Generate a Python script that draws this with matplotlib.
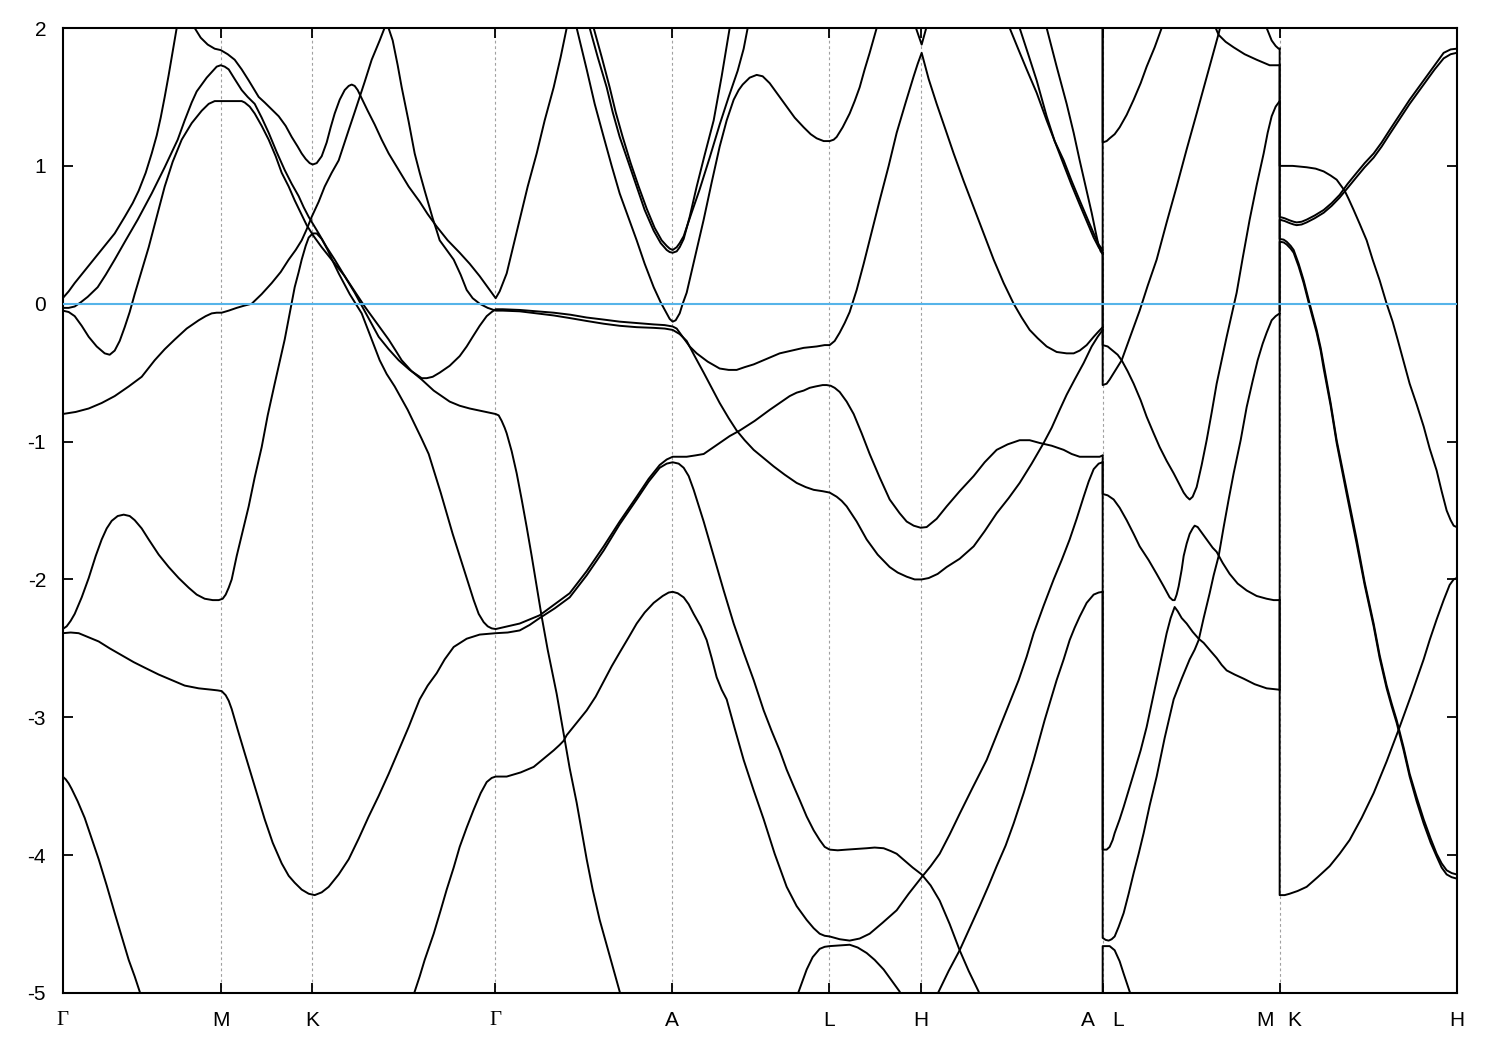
import matplotlib
matplotlib.use("Agg")
import matplotlib.pyplot as plt

plt.rcParams["font.family"] = ["Liberation Sans", "DejaVu Sans"]
plt.rcParams["axes.unicode_minus"] = False

# high-symmetry points along the k-path (path length, arbitrary units)
kpt_pos = [0.00, 1.583, 2.496, 4.326, 6.096, 7.666, 8.586, 10.40, 12.173, 13.94]
kpt_lbl = ["Γ", "M", "K", "Γ", "A", "L", "H", "", "", "H"]
# labels of the two path breaks (A|L and M|K) sit on either side of the tick
split_lbl = [(10.25, "A"), (10.55, "L"), (12.02, "M"), (12.32, "K")]
e_ticks = [-5, -4, -3, -2, -1, 0, 1, 2]

# bands as (k, E-Ef [eV])
band_01 = [(0.00, 0.04), (0.06, 0.09), (0.12, 0.15), (0.22, 0.24), (0.32, 0.33), (0.42, 0.42),
           (0.52, 0.51), (0.62, 0.63), (0.70, 0.73), (0.76, 0.82), (0.83, 0.95), (0.89, 1.09),
           (0.94, 1.22), (0.98, 1.35), (1.02, 1.50), (1.06, 1.66), (1.10, 1.83), (1.14, 2.00),
           (1.18, 2.14), (1.23, 2.20), (1.28, 2.12), (1.32, 2.00), (1.38, 1.93), (1.45, 1.88),
           (1.52, 1.85), (1.58, 1.84), (1.65, 1.81), (1.72, 1.77), (1.79, 1.70), (1.86, 1.62),
           (1.96, 1.50), (2.02, 1.46), (2.09, 1.41), (2.16, 1.36), (2.23, 1.29), (2.29, 1.21),
           (2.35, 1.14), (2.39, 1.09), (2.43, 1.05), (2.47, 1.02), (2.50, 1.01), (2.54, 1.02),
           (2.59, 1.07), (2.64, 1.17), (2.68, 1.28), (2.72, 1.38), (2.77, 1.48), (2.82, 1.55),
           (2.86, 1.58), (2.89, 1.59), (2.92, 1.58), (2.95, 1.55), (2.99, 1.49), (3.05, 1.40),
           (3.12, 1.30), (3.19, 1.19), (3.26, 1.09), (3.36, 0.97), (3.46, 0.85), (3.57, 0.74),
           (3.65, 0.65), (3.74, 0.56), (3.85, 0.46), (3.97, 0.37), (4.07, 0.29), (4.17, 0.20),
           (4.25, 0.12), (4.30, 0.07), (4.33, 0.04), (4.37, 0.09), (4.44, 0.22), (4.50, 0.40),
           (4.57, 0.61), (4.65, 0.85), (4.74, 1.09), (4.82, 1.33), (4.91, 1.57), (4.98, 1.79),
           (5.04, 2.00), (5.09, 2.15), (5.14, 2.00), (5.19, 1.85), (5.24, 1.70), (5.32, 1.45),
           (5.41, 1.21), (5.49, 1.00), (5.57, 0.80), (5.66, 0.62), (5.74, 0.46), (5.82, 0.29),
           (5.91, 0.12), (5.98, 0.01), (6.04, -0.07), (6.07, -0.11), (6.10, -0.13),
           (6.13, -0.12), (6.17, -0.07), (6.20, 0.00), (6.24, 0.08), (6.32, 0.33), (6.41, 0.61),
           (6.49, 0.88), (6.57, 1.14), (6.64, 1.33), (6.71, 1.48), (6.76, 1.55), (6.80, 1.59),
           (6.87, 1.64), (6.94, 1.66), (7.00, 1.65), (7.07, 1.60), (7.15, 1.52), (7.24, 1.43),
           (7.32, 1.35), (7.41, 1.28), (7.48, 1.23), (7.54, 1.20), (7.61, 1.18), (7.67, 1.18),
           (7.71, 1.19), (7.74, 1.21), (7.80, 1.28), (7.87, 1.38), (7.92, 1.47), (7.97, 1.57),
           (8.02, 1.70), (8.07, 1.82), (8.14, 2.00), (8.19, 2.17)]
band_02 = [(0.00, -0.03), (0.06, -0.03), (0.12, -0.02), (0.18, 0.01), (0.25, 0.05),
           (0.35, 0.12), (0.43, 0.21), (0.52, 0.32), (0.63, 0.46), (0.75, 0.61), (0.89, 0.80),
           (1.02, 0.99), (1.15, 1.19), (1.22, 1.33), (1.29, 1.46), (1.34, 1.54), (1.39, 1.59),
           (1.44, 1.64), (1.49, 1.68), (1.54, 1.72), (1.58, 1.73), (1.62, 1.72), (1.66, 1.70),
           (1.72, 1.63), (1.79, 1.55), (1.85, 1.50), (1.92, 1.45), (1.99, 1.35), (2.06, 1.24),
           (2.14, 1.10), (2.22, 0.97), (2.29, 0.87), (2.36, 0.78), (2.41, 0.70), (2.46, 0.63),
           (2.51, 0.57), (2.56, 0.51), (2.64, 0.41), (2.72, 0.32), (2.82, 0.20), (2.92, 0.08),
           (3.04, -0.08), (3.16, -0.24), (3.26, -0.33), (3.36, -0.41), (3.47, -0.48),
           (3.55, -0.52), (3.59, -0.54), (3.64, -0.54), (3.70, -0.53), (3.77, -0.50),
           (3.87, -0.45), (3.97, -0.38), (4.04, -0.31), (4.10, -0.24), (4.17, -0.16),
           (4.24, -0.09), (4.29, -0.06), (4.33, -0.04), (4.40, -0.04), (4.57, -0.045),
           (4.74, -0.055), (4.91, -0.065), (5.08, -0.08), (5.24, -0.10), (5.41, -0.115),
           (5.57, -0.13), (5.74, -0.14), (5.91, -0.15), (6.02, -0.155), (6.10, -0.165),
           (6.14, -0.18), (6.17, -0.21), (6.22, -0.26), (6.27, -0.31), (6.34, -0.36),
           (6.45, -0.42), (6.57, -0.47), (6.66, -0.48), (6.74, -0.48), (6.82, -0.46),
           (6.91, -0.44), (7.04, -0.40), (7.17, -0.36), (7.29, -0.34), (7.41, -0.32),
           (7.54, -0.31), (7.62, -0.30), (7.67, -0.30), (7.72, -0.27), (7.77, -0.21),
           (7.82, -0.14), (7.87, -0.06), (7.94, 0.10), (8.01, 0.29), (8.09, 0.52), (8.17, 0.75),
           (8.26, 1.00), (8.34, 1.24), (8.43, 1.46), (8.51, 1.65), (8.55, 1.74), (8.59, 1.82),
           (8.66, 1.63), (8.74, 1.45), (8.83, 1.26), (8.91, 1.09), (9.01, 0.89), (9.11, 0.70),
           (9.21, 0.51), (9.31, 0.32), (9.41, 0.15), (9.51, 0.00), (9.59, -0.10), (9.67, -0.19),
           (9.75, -0.25), (9.84, -0.31), (9.94, -0.35), (10.04, -0.36), (10.11, -0.36),
           (10.17, -0.34), (10.24, -0.30), (10.31, -0.24), (10.36, -0.20), (10.40, -0.17)]
band_03 = [(0.00, -0.05), (0.06, -0.06), (0.12, -0.09), (0.19, -0.16), (0.26, -0.24),
           (0.34, -0.31), (0.42, -0.36), (0.47, -0.37), (0.52, -0.34), (0.57, -0.27),
           (0.62, -0.17), (0.67, -0.06), (0.72, 0.07), (0.79, 0.24), (0.86, 0.41), (0.94, 0.63),
           (1.02, 0.85), (1.10, 1.03), (1.19, 1.19), (1.29, 1.31), (1.39, 1.40), (1.46, 1.45),
           (1.52, 1.47), (1.58, 1.47), (1.70, 1.47), (1.79, 1.47), (1.82, 1.46), (1.87, 1.43),
           (1.92, 1.38), (1.99, 1.29), (2.06, 1.19), (2.13, 1.07), (2.19, 0.95), (2.26, 0.85),
           (2.32, 0.75), (2.38, 0.66), (2.44, 0.57), (2.51, 0.49), (2.59, 0.41), (2.70, 0.31),
           (2.82, 0.20), (2.92, 0.09), (3.02, -0.02), (3.14, -0.14), (3.26, -0.26),
           (3.33, -0.34), (3.39, -0.41), (3.49, -0.49), (3.59, -0.55), (3.65, -0.59),
           (3.71, -0.63), (3.79, -0.67), (3.87, -0.71), (3.97, -0.74), (4.07, -0.76),
           (4.20, -0.78), (4.33, -0.80), (4.36, -0.81), (4.39, -0.85), (4.42, -0.90),
           (4.44, -0.94), (4.49, -1.07), (4.54, -1.23), (4.59, -1.42), (4.64, -1.62),
           (4.69, -1.83), (4.74, -2.05), (4.79, -2.27), (4.85, -2.51), (4.94, -2.83),
           (5.01, -3.12), (5.07, -3.37), (5.14, -3.62), (5.24, -4.03), (5.30, -4.25),
           (5.37, -4.47), (5.47, -4.73), (5.57, -4.99), (5.62, -5.12)]
band_04 = [(0.00, -0.80), (0.13, -0.785), (0.26, -0.76), (0.39, -0.72), (0.52, -0.67),
           (0.66, -0.60), (0.79, -0.53), (0.92, -0.41), (1.02, -0.33), (1.12, -0.26),
           (1.24, -0.18), (1.36, -0.12), (1.43, -0.09), (1.49, -0.07), (1.54, -0.065),
           (1.59, -0.065), (1.66, -0.05), (1.74, -0.03), (1.81, -0.015), (1.89, 0.00),
           (1.99, 0.07), (2.09, 0.15), (2.18, 0.23), (2.26, 0.32), (2.33, 0.39), (2.39, 0.46),
           (2.44, 0.54), (2.49, 0.63), (2.56, 0.74), (2.62, 0.85), (2.69, 0.95), (2.76, 1.04),
           (2.81, 1.15), (2.86, 1.26), (2.92, 1.39), (2.97, 1.50), (3.02, 1.61), (3.09, 1.77),
           (3.17, 1.91), (3.24, 2.04), (3.30, 1.91), (3.35, 1.73), (3.39, 1.57), (3.46, 1.32),
           (3.52, 1.09), (3.57, 0.95), (3.62, 0.82), (3.66, 0.72), (3.70, 0.62), (3.74, 0.53),
           (3.77, 0.46), (3.84, 0.39), (3.91, 0.32), (3.98, 0.21), (4.04, 0.10), (4.10, 0.04),
           (4.17, 0.00), (4.25, -0.03), (4.33, -0.05), (4.40, -0.05), (4.57, -0.055),
           (4.74, -0.07), (4.91, -0.085), (5.08, -0.105), (5.24, -0.125), (5.41, -0.145),
           (5.57, -0.16), (5.74, -0.17), (5.91, -0.175), (6.02, -0.18), (6.10, -0.19),
           (6.17, -0.22), (6.24, -0.27), (6.32, -0.38), (6.41, -0.50), (6.49, -0.61),
           (6.57, -0.72), (6.66, -0.83), (6.74, -0.92), (6.82, -0.99), (6.91, -1.06),
           (7.01, -1.12), (7.11, -1.18), (7.22, -1.24), (7.34, -1.30), (7.43, -1.33),
           (7.51, -1.35), (7.60, -1.36), (7.67, -1.37), (7.74, -1.40), (7.79, -1.43),
           (7.84, -1.47), (7.94, -1.58), (8.04, -1.71), (8.15, -1.82), (8.27, -1.91),
           (8.35, -1.95), (8.44, -1.98), (8.52, -2.00), (8.59, -2.00), (8.66, -1.99),
           (8.75, -1.96), (8.84, -1.91), (8.97, -1.85), (9.11, -1.76), (9.22, -1.65),
           (9.34, -1.52), (9.46, -1.41), (9.57, -1.30), (9.69, -1.16), (9.81, -1.01),
           (9.89, -0.90), (9.97, -0.77), (10.04, -0.66), (10.12, -0.55), (10.21, -0.43),
           (10.29, -0.31), (10.35, -0.24), (10.40, -0.19)]
band_05 = [(0.00, -2.36), (0.04, -2.34), (0.08, -2.30), (0.12, -2.25), (0.19, -2.13),
           (0.26, -1.99), (0.33, -1.83), (0.39, -1.71), (0.44, -1.63), (0.49, -1.575),
           (0.55, -1.54), (0.61, -1.53), (0.67, -1.54), (0.72, -1.57), (0.79, -1.63),
           (0.86, -1.71), (0.96, -1.82), (1.06, -1.91), (1.16, -1.99), (1.26, -2.06),
           (1.34, -2.11), (1.42, -2.14), (1.50, -2.15), (1.56, -2.15), (1.60, -2.14),
           (1.63, -2.11), (1.66, -2.06), (1.69, -2.00), (1.74, -1.83), (1.80, -1.65),
           (1.86, -1.47), (1.92, -1.26), (1.99, -1.04), (2.05, -0.81), (2.12, -0.58),
           (2.17, -0.42), (2.22, -0.26), (2.27, -0.07), (2.32, 0.12), (2.36, 0.23), (2.39, 0.32),
           (2.43, 0.42), (2.46, 0.48), (2.50, 0.51), (2.54, 0.51), (2.59, 0.47), (2.65, 0.39),
           (2.70, 0.31), (2.76, 0.22), (2.87, 0.07), (2.99, -0.07), (3.08, -0.24), (3.17, -0.41),
           (3.24, -0.51), (3.32, -0.60), (3.45, -0.77), (3.59, -0.98), (3.66, -1.09),
           (3.72, -1.23), (3.78, -1.37), (3.84, -1.52), (3.90, -1.67), (3.97, -1.83),
           (4.04, -1.99), (4.11, -2.15), (4.16, -2.25), (4.21, -2.31), (4.25, -2.34),
           (4.29, -2.355), (4.33, -2.36), (4.45, -2.34), (4.57, -2.32), (4.67, -2.29),
           (4.77, -2.26), (4.92, -2.18), (5.07, -2.10), (5.24, -1.94), (5.41, -1.76),
           (5.57, -1.58), (5.74, -1.40), (5.86, -1.27), (5.97, -1.17), (6.04, -1.13),
           (6.10, -1.11), (6.17, -1.11), (6.24, -1.11), (6.33, -1.10), (6.41, -1.09),
           (6.49, -1.05), (6.57, -1.01), (6.67, -0.96), (6.77, -0.92), (6.92, -0.85),
           (7.07, -0.77), (7.17, -0.72), (7.27, -0.67), (7.34, -0.645), (7.41, -0.63),
           (7.47, -0.61), (7.53, -0.60), (7.60, -0.59), (7.64, -0.59), (7.68, -0.595),
           (7.72, -0.61), (7.77, -0.64), (7.84, -0.71), (7.91, -0.80), (7.99, -0.94),
           (8.07, -1.09), (8.17, -1.26), (8.27, -1.42), (8.37, -1.52), (8.44, -1.58),
           (8.51, -1.61), (8.58, -1.625), (8.64, -1.62), (8.74, -1.56), (8.84, -1.47),
           (8.97, -1.36), (9.11, -1.25), (9.22, -1.15), (9.34, -1.06), (9.45, -1.02),
           (9.57, -0.99), (9.67, -0.99), (9.77, -1.01), (9.89, -1.03), (10.01, -1.06),
           (10.09, -1.09), (10.17, -1.11), (10.27, -1.11), (10.37, -1.11), (10.40, -1.10)]
band_06 = [(0.00, -2.39), (0.08, -2.385), (0.16, -2.39), (0.26, -2.42), (0.36, -2.45),
           (0.47, -2.50), (0.59, -2.55), (0.71, -2.60), (0.82, -2.64), (0.96, -2.69),
           (1.09, -2.73), (1.22, -2.77), (1.36, -2.79), (1.49, -2.80), (1.55, -2.805),
           (1.59, -2.81), (1.63, -2.84), (1.66, -2.88), (1.69, -2.94), (1.75, -3.09),
           (1.82, -3.26), (1.92, -3.50), (2.02, -3.74), (2.10, -3.91), (2.19, -4.06),
           (2.26, -4.15), (2.32, -4.20), (2.39, -4.25), (2.46, -4.28), (2.52, -4.29),
           (2.59, -4.27), (2.66, -4.23), (2.76, -4.14), (2.86, -4.03), (2.96, -3.88),
           (3.06, -3.72), (3.16, -3.57), (3.26, -3.41), (3.36, -3.24), (3.46, -3.07),
           (3.52, -2.96), (3.57, -2.87), (3.65, -2.77), (3.74, -2.68), (3.82, -2.58),
           (3.91, -2.49), (4.04, -2.43), (4.17, -2.40), (4.33, -2.39), (4.45, -2.385),
           (4.57, -2.37), (4.67, -2.33), (4.77, -2.28), (4.92, -2.21), (5.07, -2.13),
           (5.24, -1.97), (5.41, -1.79), (5.57, -1.60), (5.74, -1.42), (5.86, -1.29),
           (5.97, -1.19), (6.04, -1.16), (6.10, -1.15), (6.16, -1.16), (6.21, -1.19),
           (6.26, -1.25), (6.31, -1.35), (6.41, -1.58), (6.51, -1.83), (6.61, -2.08),
           (6.71, -2.32), (6.81, -2.53), (6.91, -2.73), (7.01, -2.95), (7.09, -3.10),
           (7.17, -3.24), (7.24, -3.38), (7.31, -3.50), (7.37, -3.60), (7.44, -3.72),
           (7.51, -3.82), (7.57, -3.89), (7.62, -3.94), (7.67, -3.96), (7.75, -3.965),
           (7.84, -3.96), (7.94, -3.955), (8.04, -3.95), (8.12, -3.945), (8.21, -3.95),
           (8.28, -3.97), (8.34, -3.99), (8.42, -4.04), (8.50, -4.09), (8.59, -4.14),
           (8.68, -4.22), (8.77, -4.33), (8.87, -4.50), (8.97, -4.69), (9.06, -4.84),
           (9.16, -4.99), (9.20, -5.09)]
band_07 = [(0.00, -3.43), (0.03, -3.45), (0.06, -3.48), (0.09, -3.52), (0.15, -3.61),
           (0.22, -3.73), (0.29, -3.88), (0.36, -4.03), (0.44, -4.22), (0.52, -4.42),
           (0.59, -4.59), (0.66, -4.76), (0.72, -4.88), (0.77, -4.99), (0.80, -5.07)]
band_08 = [(3.49, -5.05), (3.52, -4.99), (3.57, -4.88), (3.62, -4.76), (3.71, -4.57),
           (3.78, -4.40), (3.84, -4.25), (3.91, -4.09), (3.97, -3.94), (4.04, -3.80),
           (4.11, -3.67), (4.18, -3.55), (4.24, -3.47), (4.29, -3.44), (4.33, -3.43),
           (4.44, -3.43), (4.58, -3.40), (4.71, -3.36), (4.81, -3.30), (4.91, -3.24),
           (4.97, -3.20), (5.01, -3.17), (5.04, -3.13), (5.14, -3.04), (5.24, -2.95),
           (5.33, -2.85), (5.41, -2.74), (5.49, -2.63), (5.57, -2.53), (5.66, -2.42),
           (5.74, -2.32), (5.82, -2.24), (5.91, -2.17), (6.00, -2.12), (6.06, -2.095),
           (6.10, -2.09), (6.15, -2.10), (6.21, -2.13), (6.26, -2.18), (6.31, -2.25),
           (6.38, -2.34), (6.44, -2.44), (6.49, -2.57), (6.54, -2.71), (6.59, -2.80),
           (6.64, -2.87), (6.72, -3.08), (6.81, -3.31), (6.91, -3.53), (7.01, -3.74),
           (7.12, -3.99), (7.24, -4.23), (7.34, -4.37), (7.44, -4.47), (7.51, -4.53),
           (7.57, -4.57), (7.62, -4.585), (7.67, -4.59), (7.77, -4.61), (7.87, -4.62),
           (7.97, -4.605), (8.07, -4.57), (8.20, -4.49), (8.34, -4.40), (8.46, -4.28),
           (8.59, -4.16), (8.68, -4.08), (8.77, -3.99), (8.87, -3.85), (8.97, -3.70),
           (9.10, -3.51), (9.24, -3.31), (9.40, -3.02), (9.56, -2.73), (9.64, -2.56),
           (9.71, -2.39), (9.81, -2.19), (9.91, -2.00), (9.99, -1.86), (10.07, -1.71),
           (10.14, -1.56), (10.21, -1.40), (10.26, -1.29), (10.31, -1.20), (10.36, -1.16),
           (10.40, -1.15)]
band_09 = [(8.72, -5.05), (8.76, -4.99), (8.86, -4.84), (8.97, -4.69), (9.07, -4.53),
           (9.17, -4.37), (9.26, -4.22), (9.34, -4.08), (9.43, -3.93), (9.51, -3.77),
           (9.61, -3.55), (9.71, -3.31), (9.82, -3.02), (9.94, -2.73), (10.01, -2.58),
           (10.07, -2.44), (10.12, -2.35), (10.17, -2.27), (10.24, -2.17), (10.31, -2.11),
           (10.36, -2.095), (10.40, -2.09)]
band_10 = [(7.33, -5.05), (7.36, -4.99), (7.40, -4.91), (7.44, -4.83), (7.50, -4.74),
           (7.57, -4.68), (7.62, -4.665), (7.67, -4.66), (7.77, -4.655), (7.87, -4.65),
           (7.95, -4.67), (8.04, -4.71), (8.12, -4.76), (8.21, -4.83), (8.29, -4.91),
           (8.37, -4.99), (8.40, -5.05)]
band_11 = [(5.24, 2.09), (5.27, 2.00), (5.35, 1.79), (5.44, 1.57), (5.50, 1.39), (5.57, 1.21),
           (5.66, 1.02), (5.74, 0.85), (5.82, 0.68), (5.91, 0.53), (5.98, 0.44), (6.04, 0.39),
           (6.07, 0.375), (6.10, 0.37), (6.14, 0.38), (6.17, 0.41), (6.21, 0.47), (6.27, 0.63),
           (6.34, 0.85), (6.42, 1.08), (6.51, 1.33), (6.59, 1.65), (6.67, 2.00), (6.70, 2.09)]
band_12 = [(5.28, 2.09), (5.31, 2.00), (5.39, 1.79), (5.47, 1.57), (5.53, 1.39), (5.60, 1.21),
           (5.68, 1.02), (5.76, 0.85), (5.84, 0.69), (5.92, 0.55), (5.99, 0.46), (6.04, 0.42),
           (6.07, 0.40), (6.10, 0.39), (6.14, 0.41), (6.17, 0.44), (6.21, 0.49), (6.28, 0.64),
           (6.37, 0.83), (6.47, 1.06), (6.57, 1.30), (6.66, 1.50), (6.75, 1.69), (6.81, 1.85),
           (6.85, 2.00), (6.89, 2.09)]
band_13 = [(8.49, 2.09), (8.59, 1.88), (8.67, 2.09)]
band_14 = [(9.44, 2.09), (9.47, 2.00), (9.56, 1.84), (9.64, 1.70), (9.74, 1.53), (9.84, 1.33),
           (9.92, 1.18), (10.01, 1.04), (10.09, 0.89), (10.17, 0.75), (10.24, 0.63),
           (10.31, 0.51), (10.36, 0.43), (10.40, 0.39)]
band_15 = [(9.54, 2.09), (9.57, 2.00), (9.66, 1.80), (9.74, 1.62), (9.84, 1.36), (9.92, 1.18),
           (10.01, 1.01), (10.09, 0.86), (10.17, 0.72), (10.24, 0.60), (10.31, 0.48),
           (10.36, 0.41), (10.40, 0.37)]
band_16 = [(9.81, 2.09), (9.84, 2.00), (9.94, 1.72), (10.04, 1.45), (10.11, 1.24),
           (10.17, 1.04), (10.23, 0.85), (10.29, 0.66), (10.33, 0.52), (10.36, 0.42),
           (10.38, 0.38), (10.40, 0.36)]

# L -> M, first point is the band's energy on the A side of the path break
band_lm1 = [(10.40, 2.30), (10.40, 1.17), (10.44, 1.18), (10.47, 1.20), (10.52, 1.23),
            (10.57, 1.28), (10.64, 1.37), (10.71, 1.48), (10.78, 1.60), (10.84, 1.72),
            (10.92, 1.86), (10.99, 2.00), (11.04, 2.12)]
band_lm2 = [(10.40, 2.20), (10.40, -0.30), (10.45, -0.31), (10.50, -0.34), (10.55, -0.37),
            (10.59, -0.41), (10.65, -0.49), (10.71, -0.58), (10.78, -0.70), (10.84, -0.82),
            (10.91, -0.94), (10.97, -1.04), (11.04, -1.14), (11.11, -1.23), (11.16, -1.30),
            (11.21, -1.37), (11.24, -1.40), (11.27, -1.42), (11.30, -1.40), (11.34, -1.33),
            (11.39, -1.17), (11.44, -0.99), (11.49, -0.79), (11.54, -0.58), (11.59, -0.41),
            (11.64, -0.24), (11.69, -0.08), (11.74, 0.08), (11.80, 0.33), (11.87, 0.61),
            (11.94, 0.86), (12.01, 1.09), (12.05, 1.24), (12.09, 1.36), (12.13, 1.43),
            (12.17, 1.47)]
band_lm3 = [(10.40, 0.37), (10.40, -0.59), (10.44, -0.58), (10.47, -0.55), (10.53, -0.48),
            (10.59, -0.41), (10.68, -0.23), (10.77, -0.05), (10.85, 0.13), (10.94, 0.32),
            (11.04, 0.59), (11.14, 0.85), (11.24, 1.12), (11.34, 1.38), (11.45, 1.67),
            (11.56, 1.96), (11.60, 2.08)]
band_lm4 = [(10.40, -1.11), (10.40, -1.38), (10.45, -1.39), (10.51, -1.42), (10.57, -1.48),
            (10.64, -1.57), (10.71, -1.67), (10.77, -1.76), (10.86, -1.86), (10.94, -1.96),
            (11.01, -2.05), (11.07, -2.13), (11.10, -2.15), (11.12, -2.15), (11.14, -2.11),
            (11.16, -2.05), (11.19, -1.93), (11.21, -1.83), (11.24, -1.74), (11.27, -1.67),
            (11.30, -1.63), (11.32, -1.61), (11.35, -1.62), (11.37, -1.64), (11.42, -1.69),
            (11.46, -1.73), (11.50, -1.77), (11.54, -1.80), (11.60, -1.88), (11.67, -1.96),
            (11.75, -2.03), (11.84, -2.08), (11.94, -2.12), (12.04, -2.14), (12.11, -2.15),
            (12.17, -2.15)]
band_lm5 = [(10.40, -1.15), (10.40, -3.96), (10.44, -3.96), (10.47, -3.94), (10.50, -3.89),
            (10.52, -3.84), (10.57, -3.74), (10.61, -3.65), (10.66, -3.53), (10.71, -3.41),
            (10.78, -3.24), (10.84, -3.07), (10.89, -2.90), (10.94, -2.73), (10.99, -2.56),
            (11.04, -2.39), (11.08, -2.28), (11.12, -2.20), (11.15, -2.23), (11.19, -2.28),
            (11.24, -2.32), (11.30, -2.38), (11.36, -2.43), (11.41, -2.46), (11.48, -2.52),
            (11.54, -2.57), (11.59, -2.62), (11.64, -2.66), (11.72, -2.69), (11.81, -2.72),
            (11.92, -2.76), (12.04, -2.79), (12.17, -2.80)]
band_lm6 = [(10.40, -2.09), (10.40, -4.60), (10.43, -4.615), (10.46, -4.62), (10.49, -4.61),
            (10.52, -4.59), (10.56, -4.52), (10.61, -4.42), (10.66, -4.28), (10.71, -4.13),
            (10.76, -3.99), (10.81, -3.84), (10.87, -3.64), (10.94, -3.43), (11.02, -3.15),
            (11.11, -2.87), (11.19, -2.72), (11.27, -2.58), (11.32, -2.51), (11.36, -2.44),
            (11.41, -2.28), (11.47, -2.10), (11.51, -1.97), (11.56, -1.83), (11.61, -1.62),
            (11.66, -1.42), (11.71, -1.23), (11.78, -0.99), (11.84, -0.75), (11.90, -0.56),
            (11.95, -0.41), (12.00, -0.29), (12.04, -0.21), (12.09, -0.12), (12.13, -0.09),
            (12.17, -0.07)]
band_lm7 = [(10.40, -5.50), (10.40, -4.66), (10.47, -4.66), (10.52, -4.69), (10.57, -4.77),
            (10.61, -4.86), (10.67, -4.99), (10.70, -5.05)]
band_lm8 = [(11.49, 2.09), (11.53, 2.00), (11.56, 1.95), (11.63, 1.90), (11.71, 1.86),
            (11.82, 1.81), (11.94, 1.77), (12.07, 1.73), (12.17, 1.73)]
band_lm9 = [(12.00, 2.09), (12.04, 2.00), (12.09, 1.91), (12.13, 1.87), (12.16, 1.85),
            (12.17, 1.85)]

# K -> H, first point is the band's energy on the M side of the path break
band_kh1 = [(12.17, 1.85), (12.17, 1.00), (12.30, 1.00), (12.44, 0.99), (12.53, 0.98),
            (12.61, 0.96), (12.68, 0.93), (12.74, 0.90), (12.78, 0.86), (12.82, 0.82),
            (12.86, 0.76), (12.91, 0.68), (12.97, 0.58), (13.04, 0.46), (13.10, 0.32),
            (13.17, 0.17), (13.24, 0.00), (13.30, -0.13), (13.35, -0.26), (13.41, -0.42),
            (13.47, -0.58), (13.54, -0.73), (13.61, -0.89), (13.67, -1.05), (13.74, -1.21),
            (13.79, -1.36), (13.84, -1.50), (13.88, -1.57), (13.91, -1.61), (13.94, -1.62)]
band_kh2 = [(12.17, 1.73), (12.17, 0.63), (12.22, 0.62), (12.27, 0.605), (12.31, 0.595),
            (12.34, 0.59), (12.39, 0.595), (12.44, 0.61), (12.52, 0.64), (12.61, 0.68),
            (12.69, 0.73), (12.77, 0.79), (12.85, 0.87), (12.94, 0.95), (13.02, 1.02),
            (13.11, 1.09), (13.19, 1.17), (13.27, 1.26), (13.37, 1.37), (13.47, 1.48),
            (13.55, 1.56), (13.64, 1.65), (13.72, 1.73), (13.81, 1.82), (13.88, 1.845),
            (13.94, 1.85)]
band_kh3 = [(12.17, -0.05), (12.17, 0.61), (12.22, 0.60), (12.27, 0.585), (12.31, 0.575),
            (12.34, 0.57), (12.39, 0.575), (12.44, 0.59), (12.52, 0.62), (12.61, 0.66),
            (12.69, 0.71), (12.77, 0.77), (12.85, 0.84), (12.94, 0.92), (13.02, 0.99),
            (13.11, 1.06), (13.19, 1.14), (13.27, 1.23), (13.37, 1.34), (13.47, 1.45),
            (13.55, 1.53), (13.64, 1.62), (13.72, 1.70), (13.81, 1.78), (13.88, 1.81),
            (13.94, 1.82)]
band_kh4 = [(12.17, 1.46), (12.17, 0.47), (12.21, 0.465), (12.24, 0.45), (12.28, 0.42),
            (12.31, 0.39), (12.36, 0.29), (12.41, 0.17), (12.47, 0.00), (12.54, -0.19),
            (12.58, -0.32), (12.61, -0.44), (12.68, -0.72), (12.74, -0.99), (12.84, -1.35),
            (12.94, -1.71), (13.02, -2.02), (13.11, -2.32), (13.17, -2.55), (13.24, -2.77),
            (13.29, -2.90), (13.34, -3.02), (13.41, -3.22), (13.47, -3.41), (13.54, -3.58),
            (13.61, -3.74), (13.68, -3.88), (13.74, -3.99), (13.79, -4.06), (13.84, -4.11),
            (13.89, -4.13), (13.94, -4.14)]
band_kh5 = [(12.17, -2.80), (12.17, 0.45), (12.21, 0.445), (12.24, 0.43), (12.28, 0.40),
            (12.31, 0.37), (12.36, 0.27), (12.41, 0.15), (12.47, -0.02), (12.54, -0.21),
            (12.58, -0.34), (12.61, -0.47), (12.68, -0.74), (12.74, -1.01), (12.84, -1.38),
            (12.94, -1.74), (13.02, -2.04), (13.11, -2.34), (13.17, -2.57), (13.24, -2.79),
            (13.29, -2.92), (13.34, -3.04), (13.41, -3.24), (13.47, -3.43), (13.54, -3.61),
            (13.61, -3.77), (13.68, -3.91), (13.74, -4.01), (13.79, -4.09), (13.84, -4.14),
            (13.89, -4.16), (13.94, -4.17)]
band_kh6 = [(12.17, -2.15), (12.17, -4.29), (12.22, -4.29), (12.27, -4.28), (12.35, -4.26),
            (12.44, -4.23), (12.55, -4.16), (12.67, -4.08), (12.77, -3.99), (12.87, -3.89),
            (12.99, -3.73), (13.11, -3.55), (13.24, -3.32), (13.37, -3.07), (13.49, -2.83),
            (13.61, -2.58), (13.67, -2.44), (13.74, -2.29), (13.81, -2.15), (13.87, -2.04),
            (13.91, -2.00), (13.94, -1.99)]

bands = [band_01, band_02, band_03, band_04, band_05, band_06, band_07, band_08,
         band_09, band_10, band_11, band_12, band_13, band_14, band_15, band_16,
         band_lm1, band_lm2, band_lm3, band_lm4, band_lm5, band_lm6, band_lm7,
         band_lm8, band_lm9,
         band_kh1, band_kh2, band_kh3, band_kh4, band_kh5, band_kh6]


fig = plt.figure(figsize=(15, 10.5), dpi=100)
ax = fig.add_axes([0.0418, 0.0543, 0.9293, 0.9190])

# dotted guides at the interior high-symmetry points
for k in kpt_pos[1:-1]:
    ax.axvline(k, color="#a0a0a0", lw=0.8, ls=(0, (2.5, 2.5)), zorder=1)

for band in bands:
    ks = [p[0] for p in band]
    es = [p[1] for p in band]
    ax.plot(ks, es, color="black", lw=1.4, zorder=3, solid_joinstyle="round")

# Fermi level
ax.axhline(0, color="#56b4e9", lw=1.5, zorder=4)

ax.set_xlim(kpt_pos[0], kpt_pos[-1])
ax.set_ylim(-5, 2)
ax.set_xticks(kpt_pos)
ax.set_xticklabels(kpt_lbl)
ax.set_yticks(e_ticks)
ax.set_yticklabels([str(v) for v in e_ticks])
for lbl in ax.get_xticklabels():
    if lbl.get_text() == "Γ":
        lbl.set_fontfamily("Liberation Serif")

ax.tick_params(direction="in", length=7.5, width=1.3, top=True, right=True,
               labelsize=15)
ax.tick_params(axis="x", pad=13)
ax.tick_params(axis="y", pad=12)
for s in ax.spines.values():
    s.set_linewidth(1.5)

for k, name in split_lbl:
    ax.annotate(name, xy=(k, 0), xycoords=("data", "axes fraction"),
                xytext=(0, -13), textcoords="offset points",
                ha="center", va="top", fontsize=15)

fig.savefig("out.png", dpi=100)
